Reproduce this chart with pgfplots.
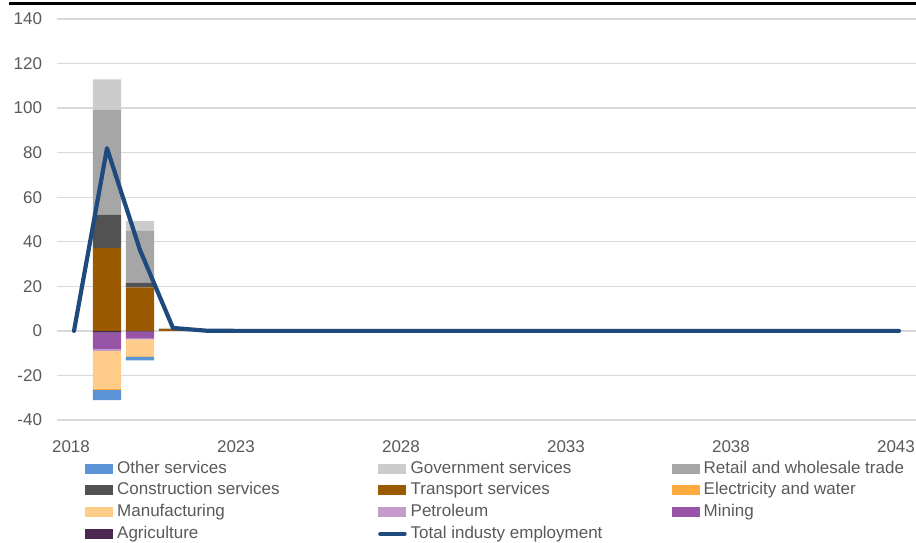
\documentclass[border=0pt]{standalone}
\usepackage{fontspec}
\setmainfont{Liberation Sans}
\usepackage{pgfplots}
\usepackage{pgfplotstable}
\pgfplotsset{compat=1.18}
\definecolor{cOther}{HTML}{5B93D7}
\definecolor{cGov}{HTML}{CCCCCC}
\definecolor{cRetail}{HTML}{A6A6A6}
\definecolor{cCons}{HTML}{525252}
\definecolor{cTrans}{HTML}{9C5A00}
\definecolor{cElec}{HTML}{FFAB40}
\definecolor{cManu}{HTML}{FFCC8A}
\definecolor{cPetro}{HTML}{C49BCC}
\definecolor{cMining}{HTML}{9855A8}
\definecolor{cAgri}{HTML}{4A2850}
\definecolor{cLine}{HTML}{1F4A7D}
\definecolor{tgray}{HTML}{595959}
\definecolor{ggray}{HTML}{D9D9D9}

% positive contributions (stacked upward from 0)
\pgfplotstableread{
year trans cons retail gov
2019 37.2 14.9 47.1 13.7
2020 19.5 2.2 23.2 4.4
2021 0.8 0.0 0.2 0.3
}\pos

% negative contributions (stacked downward from 0)
\pgfplotstableread{
year agri mining petro manu elec other
2019 -0.8 -7.3 -0.9 -17.0 -0.5 -4.6
2020 -0.3 -3.2 -0.3 -7.4 -0.4 -1.6
}\negs

\pgfplotstableread{
year total
2018 0
2019 82.0
2020 36.3
2021 1.3
2022 0.1
2023 0
2024 0
2025 0
2026 0
2027 0
2028 0
2029 0
2030 0
2031 0
2032 0
2033 0
2034 0
2035 0
2036 0
2037 0
2038 0
2039 0
2040 0
2041 0
2042 0
2043 0
}\totals

\pgfplotsset{
  common/.style={
    at={(0pt,0pt)}, anchor=south west,
    width=858pt, height=401pt, scale only axis,
    xmin=2017.5, xmax=2043.5, ymin=-40, ymax=140,
  },
  barleg/.style={legend image code/.code={\fill[##1, draw=none] (0pt,-5pt) rectangle (28pt,5pt);}},
  lineleg/.style={legend image code/.code={\draw[##1, line width=3.5pt, line cap=round] (1.5pt,0pt) -- (26.5pt,0pt);}},
}

\newcommand{\lb}[1]{\makebox[257pt][l]{#1}}

\begin{document}
\begin{tikzpicture}
\useasboundingbox (-57.5pt,-123pt) rectangle (858.5pt,420pt);
% grid, ticks and positive stack
\begin{axis}[
  common,
  xtick={2018,2023,...,2043}, ytick={-40,-20,...,140},
  scaled x ticks=false,
  /pgf/number format/1000 sep={},
  /pgf/number format/assume math mode=true,
  tick label style={font=\fontsize{17}{20}\selectfont, text=tgray},
  yticklabel style={xshift=-12pt},
  xticklabel style={yshift=-17pt, xshift=-3pt},
  ymajorgrids, grid style={draw=ggray, line width=1.3pt},
  axis line style={draw=none},
  major tick length=0pt,
  ybar stacked, bar width=0.85,
]
\addplot[fill=cTrans, draw=none] table[x=year, y=trans] {\pos};
\addplot[fill=cCons, draw=none] table[x=year, y=cons] {\pos};
\addplot[fill=cRetail, draw=none] table[x=year, y=retail] {\pos};
\addplot[fill=cGov, draw=none] table[x=year, y=gov] {\pos};
\end{axis}
% negative stack
\begin{axis}[
  common, hide axis,
  ybar stacked, bar width=0.85,
]
\addplot[fill=cAgri, draw=none] table[x=year, y=agri] {\negs};
\addplot[fill=cMining, draw=none] table[x=year, y=mining] {\negs};
\addplot[fill=cPetro, draw=none] table[x=year, y=petro] {\negs};
\addplot[fill=cManu, draw=none] table[x=year, y=manu] {\negs};
\addplot[fill=cElec, draw=none] table[x=year, y=elec] {\negs};
\addplot[fill=cOther, draw=none] table[x=year, y=other] {\negs};
\end{axis}
% total line and legend
\begin{axis}[
  common, hide axis,
  legend columns=3,
  legend cell align=left,
  legend style={at={(rel axis cs:0.03205,-0.0938)}, anchor=north west,
    draw=none, fill=none, inner sep=0pt, row sep=0pt,
    font=\fontsize{17}{20}\selectfont, text=tgray,
    nodes={inner xsep=4pt, inner ysep=2.85pt, text height=12.5pt, text depth=3.5pt}},
]
\addlegendimage{barleg, fill=cOther}
\addlegendimage{barleg, fill=cGov}
\addlegendimage{barleg, fill=cRetail}
\addlegendimage{barleg, fill=cCons}
\addlegendimage{barleg, fill=cTrans}
\addlegendimage{barleg, fill=cElec}
\addlegendimage{barleg, fill=cManu}
\addlegendimage{barleg, fill=cPetro}
\addlegendimage{barleg, fill=cMining}
\addlegendimage{barleg, fill=cAgri}
\addplot[color=cLine, line width=4.2pt, line join=round, line cap=round, lineleg] table[x=year, y=total] {\totals};
\legend{\lb{Other services}, \lb{Government services}, \lb{Retail and wholesale trade},
  \lb{Construction services}, \lb{Transport services}, \lb{Electricity and water},
  \lb{Manufacturing}, \lb{Petroleum}, \lb{Mining},
  \lb{Agriculture}, \lb{Total industy employment}}
\end{axis}
\draw[line width=3pt] (-48.5pt,416pt) -- (858.5pt,416pt);
\end{tikzpicture}
\end{document}
